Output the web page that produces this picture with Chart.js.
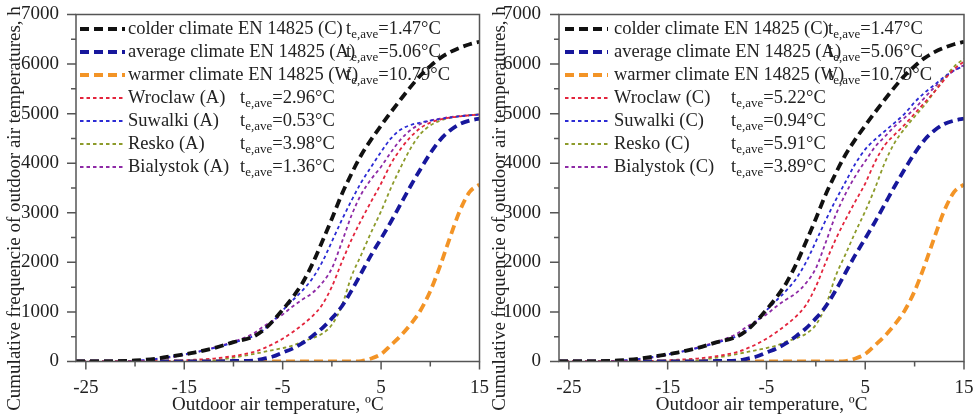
<!DOCTYPE html>
<html>
<head>
<meta charset="utf-8">
<script src="https://cdn.jsdelivr.net/npm/chart.js@4.4.1/dist/chart.umd.min.js"></script>
<style>
  html, body { margin: 0; padding: 0; background: #fff; }
  #wrap { display: flex; width: 978px; height: 417px; }
  .pane { position: relative; width: 489px; height: 417px; }
</style>
</head>
<body>
<div id="wrap">
  <div class="pane"><canvas id="chartA" width="489" height="417"></canvas></div>
  <div class="pane"><canvas id="chartC" width="489" height="417"></canvas></div>
</div>
<script>
// outdoor air temperature, °C (x values of every curve)
const temps = [-26, -24, -22, -20, -18, -16, -14, -12, -10, -8, -7, -6, -5, -4, -3, -2, -1,
  0, 1, 2, 3, 4, 5, 6, 7, 8, 9, 10, 11, 12, 13, 14, 15];

// EN 14825 reference climates (same on both panels), cumulative hours
const colderEN = [0, 0, 5, 20, 55, 115, 180, 270, 390, 500, 625, 815, 1045, 1290, 1580, 1960, 2410,
  2880, 3370, 3790, 4170, 4480, 4760, 5030, 5290, 5540, 5770, 5960, 6120, 6240, 6330, 6400, 6450];
const averageEN = [0, 0, 0, 0, 0, 0, 0, 0, 10, 20, 55, 100, 180, 260, 370, 510, 670,
  870, 1110, 1430, 1790, 2150, 2480, 2820, 3180, 3540, 3880, 4200, 4470, 4660, 4790, 4860, 4900];
const warmerEN = [0, 0, 0, 0, 0, 0, 0, 0, 0, 0, 0, 0, 0, 0, 0, 0, 0,
  0, 0, 0, 10, 60, 150, 330, 520, 750, 1030, 1420, 1930, 2500, 3040, 3420, 3570];

// stations assigned to average climate (A)
const wroclawA = [0, 0, 0, 0, 5, 15, 35, 60, 110, 190, 260, 350, 460, 590, 740, 910, 1140,
  1510, 2000, 2460, 2860, 3230, 3590, 3990, 4290, 4530, 4710, 4820, 4880, 4920, 4945, 4965, 4980];
const suwalkiA = [0, 0, 0, 15, 50, 110, 180, 270, 380, 510, 630, 810, 1030, 1230, 1430, 1670, 2000,
  2420, 2850, 3250, 3620, 3930, 4230, 4500, 4680, 4770, 4820, 4860, 4890, 4920, 4945, 4965, 4980];
const reskoA = [0, 0, 0, 0, 0, 0, 0, 20, 80, 150, 190, 230, 270, 320, 400, 470, 560,
  740, 1120, 1720, 2160, 2610, 3030, 3500, 3920, 4300, 4590, 4760, 4860, 4915, 4950, 4970, 4985];
const bialystokA = [0, 0, 0, 10, 40, 97, 180, 280, 400, 560, 700, 820, 950, 1110, 1250, 1380, 1580,
  1880, 2400, 2950, 3380, 3680, 3930, 4220, 4480, 4670, 4790, 4860, 4900, 4930, 4950, 4970, 4985];

// stations assigned to colder climate (C)
const wroclawC = [0, 0, 0, 0, 5, 15, 35, 60, 110, 190, 260, 350, 460, 590, 740, 910, 1140,
  1510, 2000, 2460, 2860, 3230, 3590, 4030, 4370, 4580, 4780, 5000, 5220, 5440, 5680, 5900, 6050];
const suwalkiC = [0, 0, 0, 15, 50, 110, 180, 270, 380, 510, 630, 810, 1030, 1230, 1430, 1670, 2000,
  2420, 2850, 3250, 3620, 3990, 4280, 4480, 4650, 4820, 5000, 5230, 5420, 5580, 5740, 5870, 5960];
const reskoC = [0, 0, 0, 0, 0, 0, 0, 20, 80, 150, 190, 230, 270, 320, 400, 470, 560,
  740, 1120, 1720, 2160, 2610, 3030, 3500, 4020, 4420, 4700, 4940, 5170, 5440, 5710, 5950, 6110];
const bialystokC = [0, 0, 0, 10, 40, 97, 180, 280, 400, 560, 700, 820, 950, 1110, 1250, 1380, 1580,
  1880, 2400, 2950, 3380, 3740, 4040, 4330, 4540, 4750, 4920, 5100, 5320, 5530, 5720, 5870, 5980];

// legend texts and mean temperatures
const refNames = ['colder climate EN 14825 (C)', 'average climate EN 14825 (A)', 'warmer climate EN 14825 (W)'];
const refTAve = [1.47, 5.06, 10.79];
const stationNames = ['Wroclaw', 'Suwalki', 'Resko', 'Bialystok'];
const tAveA = [2.96, 0.53, 3.98, 1.36];
const tAveC = [5.22, 0.94, 5.91, 3.89];

// ticks
const xTickLabels = [-25, -15, -5, 5, 15];
const xMinorTicks = [-20, -10, 0, 10];
const yMinorTicks = [500, 1500, 2500, 3500, 4500, 5500, 6500];

const SERIF = '"Liberation Serif", "Times New Roman", serif';
const refColors = ['#111111', '#17179c', '#f39426'];
const stationColors = ['#e3243c', '#2b2bd4', '#8d9b2b', '#8e2aa6'];

function pts(ys) { return ys.map((y, i) => ({ x: temps[i], y })); }

function refSet(i, ys) {
  return { label: refNames[i], tAve: refTAve[i], data: pts(ys), borderColor: refColors[i],
    borderWidth: 3.8, borderDash: [9, 5], pointRadius: 0, cubicInterpolationMode: 'monotone', fill: false };
}
function stationSet(i, ys, suffix, tAve) {
  return { label: stationNames[i] + ' (' + suffix + ')', tAve: tAve[i], data: pts(ys), borderColor: stationColors[i],
    borderWidth: 1.8, borderDash: [3.5, 3], pointRadius: 0, cubicInterpolationMode: 'monotone', fill: false };
}

const legendPlugin = {
  id: 'sketchLegend',
  beforeDatasetsDraw(chart, args, o) {
    const { ctx, chartArea } = chart;
    ctx.save();
    chart.data.datasets.forEach((ds, i) => {
      const y = chartArea.top + 14.5 + i * 23;
      ctx.strokeStyle = ds.borderColor;
      ctx.lineWidth = ds.borderWidth;
      ctx.setLineDash(ds.borderDash);
      ctx.beginPath();
      ctx.moveTo(chartArea.left + o.sampleFrom, y);
      ctx.lineTo(chartArea.left + o.sampleTo, y);
      ctx.stroke();
      ctx.setLineDash([]);
      ctx.fillStyle = '#222';
      ctx.textAlign = 'left';
      ctx.textBaseline = 'middle';
      ctx.font = '18.5px ' + SERIF;
      ctx.fillText(ds.label, chartArea.left + o.textAt, y);
      let tx = chartArea.left + (i < 3 ? o.tRef : o.tStation);
      ctx.fillText('t', tx, y);
      tx += ctx.measureText('t').width;
      ctx.font = '13px ' + SERIF;
      ctx.fillText('e,ave', tx, y + 6);
      tx += ctx.measureText('e,ave').width;
      ctx.font = '18.5px ' + SERIF;
      ctx.fillText('=' + ds.tAve.toFixed(2) + '°C', tx, y);
    });
    ctx.restore();
  }
};

const framePlugin = {
  id: 'sketchFrame',
  afterDraw(chart, args, o) {
    const { ctx, chartArea: a, scales } = chart;
    ctx.save();
    ctx.strokeStyle = '#555';
    ctx.lineWidth = 1.5;
    ctx.strokeRect(a.left, a.top, a.right - a.left, a.bottom - a.top);
    ctx.beginPath();
    xTickLabels.forEach(v => { const p = scales.x.getPixelForValue(v); ctx.moveTo(p, a.bottom); ctx.lineTo(p, a.bottom + 8); });
    xMinorTicks.forEach(v => { const p = scales.x.getPixelForValue(v); ctx.moveTo(p, a.bottom); ctx.lineTo(p, a.bottom + 5); });
    scales.y.ticks.forEach(t => { const p = scales.y.getPixelForValue(t.value); ctx.moveTo(a.left, p); ctx.lineTo(a.left - 9, p); });
    yMinorTicks.forEach(v => { const p = scales.y.getPixelForValue(v); ctx.moveTo(a.left, p); ctx.lineTo(a.left - 5, p); });
    ctx.stroke();

    ctx.fillStyle = '#222';
    ctx.font = '19px ' + SERIF;
    ctx.textAlign = 'center';
    ctx.textBaseline = 'middle';
    ctx.fillText('Outdoor air temperature, ºC', (a.left + a.right) / 2, 405);
    ctx.translate(o.yTitleX, chart.height / 2);
    ctx.rotate(-Math.PI / 2);
    ctx.fillText('Cumulative frequencie of outdoor air temperatures, h', 0, 0);
    ctx.restore();
  }
};

function makeChart(id, stations, suffix, tAve, g) {
  const datasets = [refSet(0, colderEN), refSet(1, averageEN), refSet(2, warmerEN)]
    .concat(stations.map((s, i) => stationSet(i, s, suffix, tAve)));
  return new Chart(document.getElementById(id), {
    type: 'line',
    data: { datasets },
    plugins: [legendPlugin, framePlugin],
    options: {
      responsive: false,
      animation: false,
      layout: { padding: { left: 0, top: 14.5, right: g.right, bottom: 0 } },
      plugins: {
        legend: { display: false },
        tooltip: { enabled: false },
        sketchLegend: g.legend,
        sketchFrame: { yTitleX: g.yTitleX }
      },
      scales: {
        x: {
          type: 'linear', min: -26, max: 15,
          grid: { display: false }, border: { display: false },
          afterBuildTicks: s => { s.ticks = xTickLabels.map(v => ({ value: v })); },
          afterFit: s => { s.height = 55.5; s.paddingLeft = 0; s.paddingRight = 0; },
          ticks: { padding: 7, color: '#222', font: { family: SERIF, size: 19 } }
        },
        y: {
          min: 0, max: 7000,
          grid: { display: false }, border: { display: false },
          afterFit: s => { s.width = g.yWidth; s.paddingTop = 0; s.paddingBottom = 0; },
          ticks: { stepSize: 1000, padding: g.yPad, color: '#222', font: { family: SERIF, size: 19 },
            callback: v => String(v) }
        }
      }
    }
  });
}

makeChart('chartA', [wroclawA, suwalkiA, reskoA, bialystokA], 'A', tAveA, {
  right: 9.5, yWidth: 76, yPad: 9, yTitleX: 15,
  legend: { sampleFrom: 4, sampleTo: 49, textAt: 52, tRef: 270, tStation: 164 }
});
makeChart('chartC', [wroclawC, suwalkiC, reskoC, bialystokC], 'C', tAveC, {
  right: 14, yWidth: 70, yPad: 10, yTitleX: 11,
  legend: { sampleFrom: 6, sampleTo: 49, textAt: 55, tRef: 269, tStation: 172 }
});
</script>
</body>
</html>
